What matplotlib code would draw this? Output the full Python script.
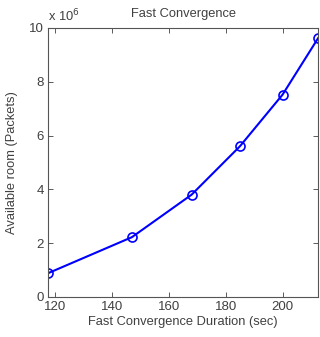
import numpy as np
import matplotlib
matplotlib.use("Agg")
import matplotlib.pyplot as plt

# data
duration = [117.5, 147, 168, 185, 200, 212.5]
room = np.array([0.88e6, 2.22e6, 3.8e6, 5.6e6, 7.52e6, 9.62e6])
x_ticks = [120, 140, 160, 180, 200]
y_ticks = [0, 2, 4, 6, 8, 10]

TEXT_COLOR = "#404040"
plt.rcParams["font.family"] = ["Liberation Sans", "DejaVu Sans"]
plt.rcParams["font.size"] = 9

fig = plt.figure(figsize=(3.2, 3.37), dpi=100)
ax = fig.add_axes([0.15, 0.119, 0.844, 0.798])

ax.plot(duration, room / 1e6, color="#0000ff", lw=1.5, marker="o",
        markersize=6.5, markerfacecolor="none", markeredgewidth=1.2)

ax.set_xlim(117.5, 212.5)
ax.set_ylim(0, 10)
ax.set_xticks(x_ticks)
ax.set_yticks(y_ticks)
ax.tick_params(direction="in", length=3.5, width=0.6, top=True, right=True,
               colors=TEXT_COLOR, labelsize=9.5, pad=3)
for s in ax.spines.values():
    s.set_color("#555555")
    s.set_linewidth(0.8)

ax.set_xlabel("Fast Convergence Duration (sec)", color=TEXT_COLOR, fontsize=9.3, labelpad=2)
ax.set_ylabel("Available room (Packets)", color=TEXT_COLOR, fontsize=9.3, labelpad=8)
ax.set_title("Fast Convergence", color=TEXT_COLOR, fontsize=9.3, pad=8)
ax.text(0.0, 1.012, r"x 10$^6$", transform=ax.transAxes, color=TEXT_COLOR,
        fontsize=9.3, ha="left", va="bottom")

fig.savefig("out.png", dpi=100)
